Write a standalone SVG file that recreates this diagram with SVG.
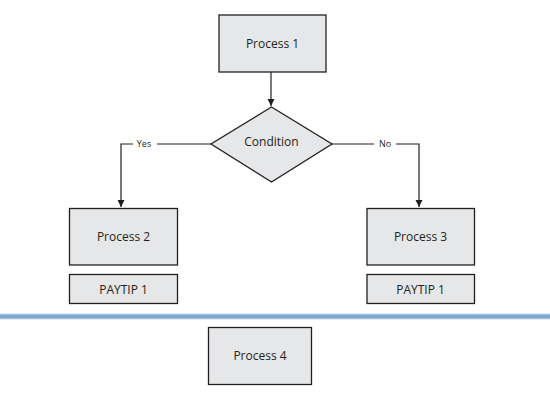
<svg xmlns="http://www.w3.org/2000/svg" width="550" height="400" viewBox="0 0 550 400">
<defs>
<style>
.box{fill:#e6e7e8;stroke:#231f20;stroke-width:1.3}
.lbl{font-family:"Open Sans","Liberation Sans",sans-serif;font-size:12px;fill:#231f20;text-anchor:middle}
.sm{font-family:"Open Sans","Liberation Sans",sans-serif;font-size:9px;fill:#231f20;text-anchor:middle}
.ln{fill:none;stroke:#231f20;stroke-width:1.2}
</style>
<marker id="ah" markerWidth="8" markerHeight="8" refX="7" refY="4" orient="auto" markerUnits="userSpaceOnUse">
<path d="M0,0.5 L7,4 L0,7.5 Z" fill="#231f20"/>
</marker>
</defs>
<rect x="0" y="0" width="550" height="400" fill="#ffffff"/>
<g id="connectors">
<line class="ln" x1="271" y1="72" x2="271" y2="106" marker-end="url(#ah)"/>
<polyline class="ln" points="211,144 157,144"/>
<polyline class="ln" points="133,144 121,144 121,207" marker-end="url(#ah)"/>
<text class="sm" x="144" y="147">Yes</text>
<polyline class="ln" points="332,144 374,144"/>
<polyline class="ln" points="396,144 419,144 419,207" marker-end="url(#ah)"/>
<text class="sm" x="385" y="147">No</text>
</g>
<g id="process1"><rect class="box" x="219" y="15" width="107" height="57"/><text class="lbl" x="272.5" y="48">Process 1</text></g>
<g id="condition"><polygon class="box" points="271.5,107 332,144 271.5,182 211,144"/><text class="lbl" x="271.5" y="146">Condition</text></g>
<g id="process2"><rect class="box" x="69.5" y="208.5" width="108" height="56.5"/><text class="lbl" x="123.5" y="241">Process 2</text></g>
<g id="paytip2"><rect class="box" x="69.5" y="274.5" width="108" height="29"/><text class="lbl" x="123.5" y="293.5">PAYTIP 1</text></g>
<g id="process3"><rect class="box" x="367" y="208.5" width="107.5" height="56.5"/><text class="lbl" x="420.5" y="241">Process 3</text></g>
<g id="paytip3"><rect class="box" x="367" y="274.5" width="107.5" height="29"/><text class="lbl" x="420.5" y="293.5">PAYTIP 1</text></g>
<g id="divider"><line x1="0" y1="316.5" x2="550" y2="316.5" stroke="#c9d9ec" stroke-width="6"/><line x1="0" y1="316.5" x2="550" y2="316.5" stroke="#7ea7d2" stroke-width="4"/></g>
<g id="process4"><rect class="box" x="208.5" y="327.5" width="103" height="57"/><text class="lbl" x="260" y="360">Process 4</text></g>
</svg>
